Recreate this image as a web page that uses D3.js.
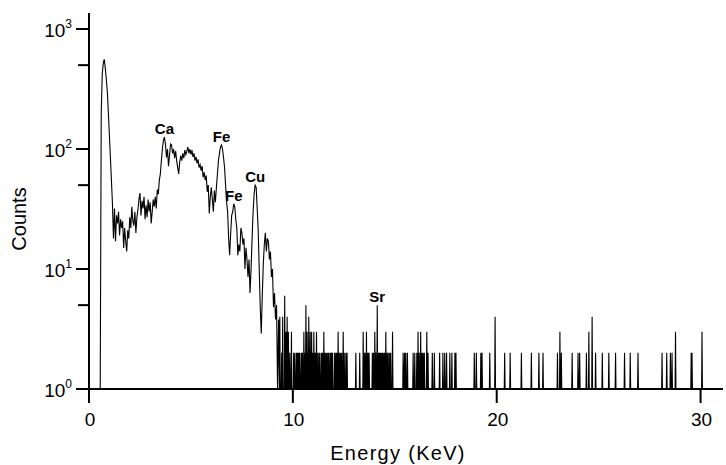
<!DOCTYPE html>
<html>
<head>
<meta charset="utf-8">
<script src="https://cdn.jsdelivr.net/npm/d3@7"></script>
<style>
  html, body { margin: 0; padding: 0; background: #fff; }
  svg { display: block; }
  text { font-family: "Liberation Sans", Arial, Helvetica, sans-serif; fill: #000; }
</style>
</head>
<body>
<svg id="chart" width="726" height="465"></svg>
<script>
// X-ray fluorescence spectrum: counts per channel against energy (keV)

// Continuous part of the spectrum, channels every 0.05 keV starting at 0.5 keV
const mainStart = 0.5;
const mainStep = 0.05;
const mainCounts = [
  1, 1, 200, 420, 520, 560, 470, 380, 300, 200,      // 0.50 – 0.95
  130, 85, 55, 35, 18, 32, 17, 28, 24, 30,           // 1.00 – 1.45
  19, 26, 22, 25, 15, 22, 17, 14, 21, 18,            // 1.50 – 1.95
  27, 22, 33, 25, 23, 30, 20, 27, 31, 38,            // 2.00 – 2.45
  43, 28, 37, 32, 40, 26, 34, 27, 38, 30,            // 2.50 – 2.95
  36, 24, 30, 38, 33, 40, 32, 46, 42, 55,            // 3.00 – 3.45
  62, 80, 100, 118, 126, 110, 85, 100, 72, 88,       // 3.50 – 3.95
  110, 108, 92, 100, 84, 96, 80, 70, 62, 78,         // 4.00 – 4.45
  88, 80, 92, 84, 98, 90, 96, 104, 92, 100,          // 4.50 – 4.95
  90, 98, 86, 92, 80, 86, 76, 82, 70, 74,            // 5.00 – 5.45
  66, 72, 58, 64, 55, 60, 44, 50, 29, 40,            // 5.50 – 5.95
  48, 38, 30, 45, 36, 48, 62, 80, 92, 104,           // 6.00 – 6.45
  108, 100, 85, 70, 50, 36, 30, 18, 13, 20,          // 6.50 – 6.95
  28, 30, 35, 33, 26, 22, 13, 16, 14, 22,            // 7.00 – 7.45
  20, 16, 18, 10, 15, 12, 8.6, 12, 6.3, 10,          // 7.50 – 7.95
  18, 30, 42, 50, 48, 32, 21, 10, 4.8, 2.9,          // 8.00 – 8.45
  6, 11, 16, 20, 14, 18, 17, 12, 14, 8.6,            // 8.50 – 8.95
  10, 4.8, 6.3, 3.8, 5, 1, 3.8                       // 9.00 – 9.30
];

// High-energy tail: isolated channels holding more than one count
const tailEnergy = [
  9.36, 9.45, 9.5, 9.6, 9.66, 9.72, 9.78, 9.85, 9.93, 10.04,
  10.1, 10.18, 10.22, 10.26, 10.3, 10.34, 10.42, 10.47, 10.54, 10.58,
  10.64, 10.7, 10.74, 10.78, 10.82, 10.85, 10.88, 10.92, 10.97, 11.03,
  11.08, 11.12, 11.16, 11.2, 11.27, 11.33, 11.41, 11.46, 11.52, 11.56,
  11.62, 11.67, 11.73, 11.78, 11.85, 11.9, 11.95, 12.05, 12.11, 12.16,
  12.22, 12.28, 12.34, 12.4, 12.47, 12.52, 12.6, 12.66, 13.09, 13.28,
  13.45, 13.5, 13.56, 13.61, 13.65, 13.69, 13.74, 13.9, 13.95, 14.02,
  14.07, 14.14, 14.2, 14.25, 14.3, 14.35, 14.4, 14.46, 14.5, 14.56,
  14.62, 14.68, 14.75, 14.8, 14.89, 15.41, 15.48, 15.54, 15.62, 15.9,
  15.98, 16.08, 16.14, 16.2, 16.27, 16.33, 16.39, 16.45, 16.57, 16.63,
  16.84, 16.94, 17.2, 17.36, 17.45, 17.54, 17.7, 17.8, 17.95, 18.0,
  18.9, 19.0, 19.22, 19.28, 19.66, 19.92, 20.39, 20.66, 21.21, 21.7,
  22.07, 22.27, 22.98, 23.1, 23.17, 23.7, 23.99, 24.07, 24.4, 24.52,
  24.68, 24.85, 25.18, 25.5, 25.83, 26.27, 26.55, 26.93, 28.11, 28.34,
  28.52, 28.6, 28.77, 29.54, 29.58, 30.07
];
const tailCounts = [
  4, 2, 4, 6, 3, 4, 3, 2, 3, 2,
  2, 2, 2, 2, 2, 2, 2, 2, 3, 2,
  5, 3, 2, 4, 2, 3, 2, 3, 2, 3,
  2, 2, 3, 2, 2, 2, 2, 2, 3, 2,
  2, 2, 2, 2, 2, 2, 2, 2, 2, 2,
  3, 2, 2, 2, 3, 2, 2, 2, 2, 2,
  3, 2, 2, 3, 2, 2, 2, 2, 2, 3,
  2, 5, 2, 2, 2, 2, 2, 2, 2, 3,
  2, 2, 2, 2, 3, 2, 2, 2, 2, 2,
  2, 2, 3, 2, 3, 2, 2, 2, 3, 2,
  2, 2, 2, 2, 2, 2, 2, 2, 2, 2,
  2, 2, 2, 2, 2, 4, 2, 2, 2, 2,
  2, 2, 2, 3, 2, 2, 2, 2, 2, 3,
  4, 2, 2, 2, 2, 2, 2, 2, 2, 2,
  2, 2, 3, 2, 2, 3
];

// Element lines marked on the spectrum
const peakNames  = ["Ca", "Fe", "Fe", "Cu", "Sr"];
const peakEnergy = [3.7, 6.5, 7.1, 8.15, 14.14];
const peakCounts = [126, 108, 35, 50, 5];

// Axis ticks
const xTicks = [0, 10, 20, 30];
const yMajor = [1, 10, 100, 1000];
const yExponent = ["0", "1", "2", "3"];
const yMinor = [5, 50, 500];

const svg = d3.select("#chart");

const x = d3.scaleLinear().domain([0, 31.1]).range([89, 723]);
const y = d3.scaleLog().domain([1, 1360]).range([389, 13]);

// Spectrum points: continuous part, then the sparse tail where empty channels rest on the 10^0 floor
const points = mainCounts.map((c, i) => [mainStart + i * mainStep, c]);
const halfChannel = 0.02;
tailEnergy.forEach((e, i) => {
  points.push([e - halfChannel, 1]);
  points.push([e, tailCounts[i]]);
  points.push([e + halfChannel, 1]);
});

const line = d3.line()
  .x(d => x(d[0]))
  .y(d => y(Math.max(1, d[1])));

svg.append("path")
  .datum(points)
  .attr("d", line)
  .attr("fill", "none")
  .attr("stroke", "#000")
  .attr("stroke-width", 1.1)
  .attr("stroke-linejoin", "miter");

// X axis
const xAxis = svg.append("g").attr("transform", `translate(0,${y(1)})`);
xAxis.append("line")
  .attr("x1", 76).attr("x2", x.range()[1])
  .attr("stroke", "#000").attr("stroke-width", 2);
xAxis.selectAll("line.tick").data(xTicks).join("line")
  .attr("class", "tick")
  .attr("x1", d => x(d)).attr("x2", d => x(d))
  .attr("y1", 0).attr("y2", 14)
  .attr("stroke", "#000").attr("stroke-width", 2);
xAxis.selectAll("text").data(xTicks).join("text")
  .attr("x", d => x(d) + 1)
  .attr("y", 37)
  .attr("text-anchor", "middle")
  .attr("font-size", 19)
  .text(d => d);

// Y axis
const yAxis = svg.append("g").attr("transform", `translate(${x(0)},0)`);
yAxis.append("line")
  .attr("y1", y.range()[1]).attr("y2", y(1))
  .attr("stroke", "#000").attr("stroke-width", 2);
yAxis.selectAll("line.major").data(yMajor).join("line")
  .attr("class", "major")
  .attr("x1", -13).attr("x2", 0)
  .attr("y1", d => y(d)).attr("y2", d => y(d))
  .attr("stroke", "#000").attr("stroke-width", 2);
yAxis.selectAll("line.minor").data(yMinor).join("line")
  .attr("class", "minor")
  .attr("x1", -11).attr("x2", 0)
  .attr("y1", d => y(d)).attr("y2", d => y(d))
  .attr("stroke", "#000").attr("stroke-width", 2);
const yLabels = yAxis.selectAll("text").data(yMajor).join("text")
  .attr("x", -17)
  .attr("y", d => y(d) + 8)
  .attr("text-anchor", "end")
  .attr("font-size", 19);
yLabels.append("tspan").text("10");
yLabels.append("tspan")
  .attr("dy", -9)
  .attr("font-size", 12)
  .text((d, i) => yExponent[i]);

// Axis titles
svg.append("text")
  .attr("x", 398)
  .attr("y", 460)
  .attr("text-anchor", "middle")
  .attr("font-size", 20)
  .attr("letter-spacing", 1.3)
  .text("Energy (KeV)");

svg.append("text")
  .attr("transform", "translate(26,219) rotate(-90)")
  .attr("text-anchor", "middle")
  .attr("font-size", 20)
  .text("Counts");

// Element labels above their peaks
svg.selectAll("text.peak").data(peakNames).join("text")
  .attr("class", "peak")
  .attr("x", (d, i) => x(peakEnergy[i]))
  .attr("y", (d, i) => y(peakCounts[i]) - 3)
  .attr("text-anchor", "middle")
  .attr("font-size", 15)
  .attr("font-weight", "bold")
  .text(d => d);
</script>
</body>
</html>
